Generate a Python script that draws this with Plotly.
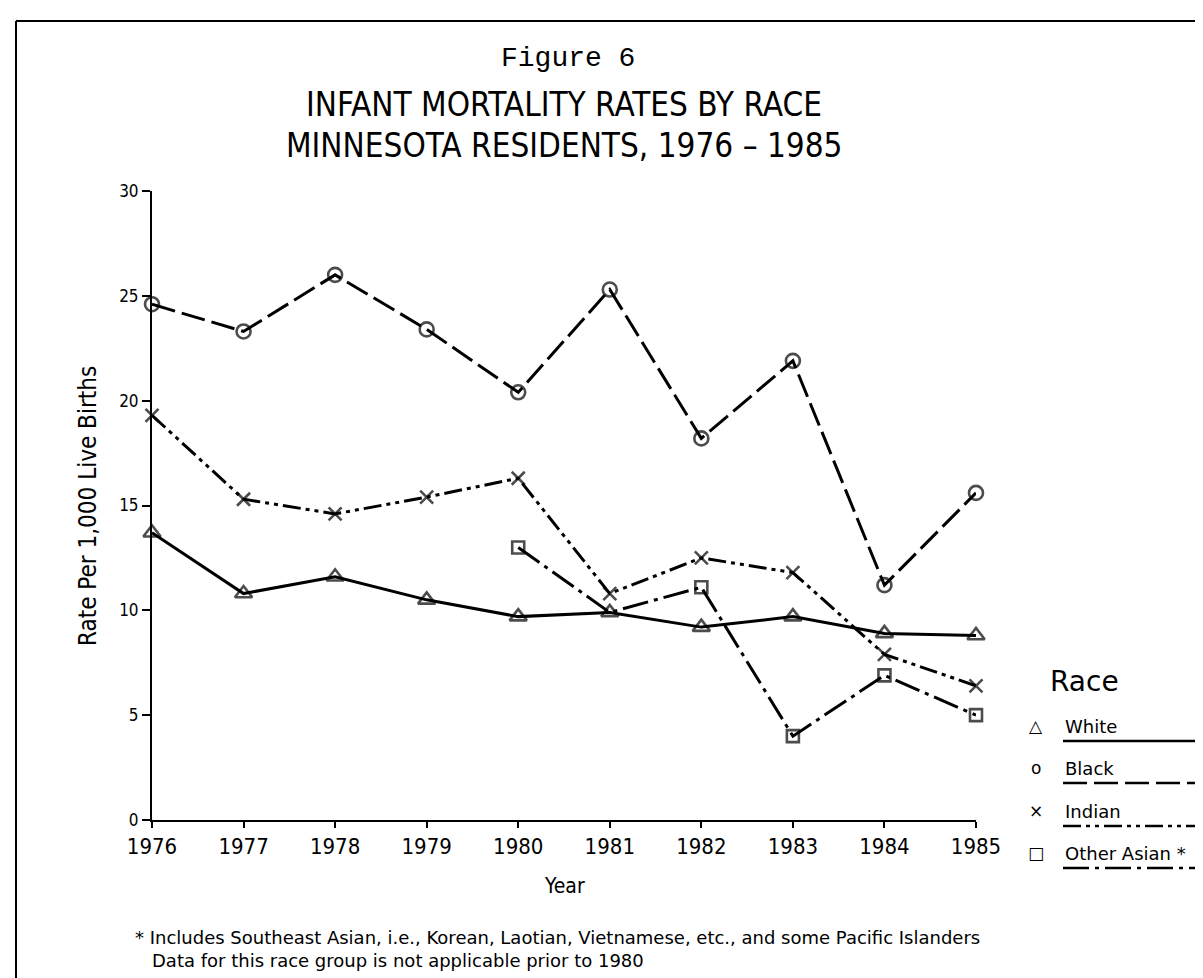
import plotly.graph_objects as go

# Данные
years = [1976, 1977, 1978, 1979, 1980, 1981, 1982, 1983, 1984, 1985]
white = [13.7, 10.8, 11.6, 10.5, 9.7, 9.9, 9.2, 9.7, 8.9, 8.8]
black = [24.6, 23.3, 26.0, 23.4, 20.4, 25.3, 18.2, 21.9, 11.2, 15.6]
indian = [19.3, 15.3, 14.6, 15.4, 16.3, 10.8, 12.5, 11.8, 7.9, 6.4]
other_asian = [None, None, None, None, 13.0, 9.9, 11.1, 4.0, 6.9, 5.0]

race_names = ['White', 'Black', 'Indian', 'Other Asian *']
y_ticks = [0, 5, 10, 15, 20, 25, 30]

W, H = 1203, 978
L, R, T, B = 144, 968, 183, 812  # plot area in pixels

LABEL_FONT = 'Liberation Sans Narrow, DejaVu Sans Condensed, Liberation Sans, sans-serif'
WIDE_FONT = 'DejaVu Sans, Noto Sans, sans-serif'


def px(x):
    """Пиксель по x -> координата paper."""
    return (x - L) / (R - L)


def py(y):
    """Пиксель по y -> координата paper."""
    return (B - y) / (B - T)


styles = [
    dict(dash='solid', symbol='triangle-up-open', size=15, legend_char='△'),
    dict(dash='24px,7px', symbol='circle-open', size=14, legend_char='o'),
    dict(dash='18px,5px,4px,5px,4px,5px', symbol='x-thin-open', size=13, legend_char='×'),
    dict(dash='26px,6px,4px,6px', symbol='square-open', size=12, legend_char='□'),
]
series = [white, black, indian, other_asian]

fig = go.Figure()

for vals, name, st in zip(series, race_names, styles):
    # квадрат в 1981 г. скрыт под треугольником на оригинале
    sizes = [st['size']] * len(years)
    if name.startswith('Other'):
        sizes[years.index(1981)] = 0
    fig.add_trace(go.Scatter(
        x=years, y=vals,
        mode='lines+markers',
        name=name,
        line=dict(color='black', width=3, dash=st['dash']),
        marker=dict(symbol=st['symbol'], size=sizes, color='black',
                    line=dict(color='black', width=2.6)),
        cliponaxis=False,
        showlegend=False,
        connectgaps=False,
    ))

annotations = [
    dict(text='Figure 6', x=px(560), y=py(50), font=dict(family='Liberation Mono, Courier New, monospace', size=28)),
    dict(text='INFANT MORTALITY RATES BY RACE', x=px(556), y=py(97), font=dict(family=LABEL_FONT, size=33)),
    dict(text='MINNESOTA RESIDENTS, 1976 \u2013 1985', x=px(556), y=py(137), font=dict(family=LABEL_FONT, size=33)),
    dict(text='Rate Per 1,000 Live Births', x=px(80), y=py(498), textangle=-90,
         font=dict(family=LABEL_FONT, size=24)),
    dict(text='Year', x=px(556), y=py(878), font=dict(family=LABEL_FONT, size=21)),
    dict(text='* Includes Southeast Asian, i.e., Korean, Laotian, Vietnamese, etc., and some Pacific Islanders',
         x=px(125), y=py(929), xanchor='left', font=dict(family=WIDE_FONT, size=18)),
    dict(text='Data for this race group is not applicable prior to 1980',
         x=px(142), y=py(952), xanchor='left', font=dict(family=WIDE_FONT, size=18)),
    dict(text='Race', x=px(1076), y=py(673), font=dict(family=WIDE_FONT, size=28)),
]

shapes = [
    # рамка
    dict(type='line', x0=px(8), x1=px(1203), y0=py(13), y1=py(13), line=dict(color='black', width=2)),
    dict(type='line', x0=px(8), x1=px(8), y0=py(13), y1=py(978), line=dict(color='black', width=2)),
]

legend_y = [718, 760, 803, 845]
for name, st, ly in zip(race_names, styles, legend_y):
    annotations.append(dict(text=st['legend_char'], x=px(1028), y=py(ly),
                            font=dict(family=WIDE_FONT, size=17)))
    annotations.append(dict(text=name, x=px(1055), y=py(ly), xanchor='left',
                            font=dict(family=WIDE_FONT, size=18)))
    shapes.append(dict(type='line', x0=px(1055), x1=px(1195), y0=py(ly + 15), y1=py(ly + 15),
                       line=dict(color='black', width=2.5, dash=st['dash'])))

for a in annotations:
    a.update(xref='paper', yref='paper', showarrow=False)
    a.setdefault('xanchor', 'center')
    a.setdefault('yanchor', 'middle')
    a['font'].setdefault('color', 'black')

for s in shapes:
    s.update(xref='paper', yref='paper')

fig.update_layout(
    width=W, height=H,
    margin=dict(l=L, r=W - R, t=T, b=H - B),
    paper_bgcolor='white',
    plot_bgcolor='white',
    showlegend=False,
    annotations=annotations,
    shapes=shapes,
    xaxis=dict(
        range=[1976, 1985], tickvals=years, ticktext=[str(y) for y in years],
        showline=True, linecolor='black', linewidth=2, showgrid=False, zeroline=False,
        ticks='outside', ticklen=6, tickwidth=2, tickcolor='black',
        tickfont=dict(family=LABEL_FONT, size=22, color='black'),
    ),
    yaxis=dict(
        range=[0, 30], tickvals=y_ticks,
        showline=True, linecolor='black', linewidth=2, showgrid=False, zeroline=False,
        ticks='outside', ticklen=8, tickwidth=2, tickcolor='black',
        tickfont=dict(family=LABEL_FONT, size=17, color='black'),
    ),
)

fig.write_html('out.html')
